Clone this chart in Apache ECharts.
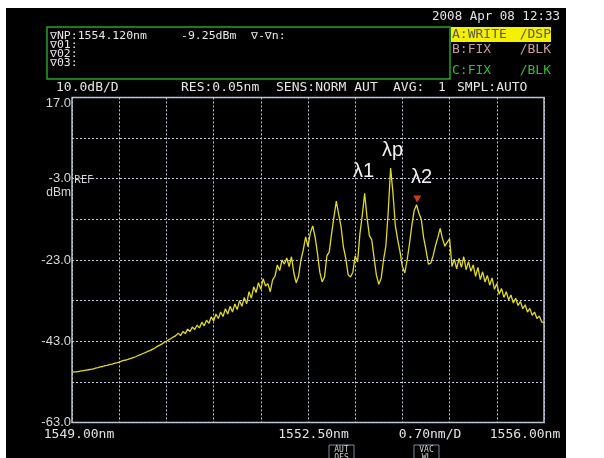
<!DOCTYPE html>
<html><head><meta charset="utf-8">
<script src="https://cdn.jsdelivr.net/npm/echarts@6/dist/echarts.min.js"></script>
<style>html,body{margin:0;padding:0;background:#fff}#c{width:604px;height:458px}</style>
</head><body><div id="c"></div>
<script>
// ---- data ----
const startNm = 1549.0, stepNm = 0.035;           // OSA sampling grid (nm)
const powerSmooth = [
  -50.6,-50.5,-50.5,-50.4,-50.3,-50.2,-50.1,-50.0,-49.9,-49.8,
  -49.6,-49.5,-49.3,-49.2,-49.0,-48.9,-48.7,-48.6,-48.4,-48.3,
  -48.1,-47.9,-47.7,-47.6,-47.4,-47.2,-47.0,-46.8,-46.5,-46.3,
  -46.0,-45.8,-45.5,-45.3,-45.0,-44.7,-44.3,-44.0,-43.7,-43.3,
  -43.0,-42.6,-42.3,-41.9,-41.6];
const powerRipple = [
  -41.0,-41.6,-40.6,-41.1,-40.0,-40.6,-39.5,-40.1,-39.0,-39.7,
  -38.3,-39.2,-37.8,-38.6,-37.0,-38.0,-36.3,-37.4,-35.8,-36.9,
  -35.0,-36.3,-34.4,-35.8,-33.8,-35.2,-33.0,-34.4,-32.2,-33.8,
  -30.8,-32.4,-29.6,-31.0,-28.6,-30.2,-27.6,-29.4,-28.8,-30.8,
  -27.9];
const powerPeaks = [
  -27.0,-24.2,-25.6,-23.0,-24.0,-22.5,-24.6,-22.2,-26.2,-28.6,
  -27.0,-23.0,-20.5,-17.3,-19.7,-16.3,-14.6,-17.3,-21.3,-26.0,
  -28.4,-27.2,-22.0,-21.0,-16.5,-12.4,-8.5,-11.8,-14.8,-19.8,
  -22.6,-26.6,-27.2,-26.0,-22.0,-23.5,-16.5,-12.0,-6.6,-12.5,
  -17.0,-18.0,-22.5,-26.8,-29.0,-27.5,-23.0,-19.5,-11.0,-0.4,
  -6.5,-14.5,-18.0,-21.0,-24.6,-26.2,-23.0,-19.0,-14.5,-10.8,
  -9.4,-11.5,-13.0,-17.5,-20.5,-24.0,-23.8,-22.0,-19.5,-17.5,
  -15.2,-17.8,-19.6,-18.6,-17.8];
const powerTail = [
  -24.6,-22.8,-25.2,-22.6,-24.8,-22.2,-25.4,-23.4,-25.8,-24.2,
  -27.0,-24.8,-27.8,-25.9,-28.4,-26.8,-29.2,-27.4,-30.2,-28.8,
  -31.4,-30.0,-32.2,-30.8,-32.8,-31.6,-33.6,-32.4,-34.2,-33.2,
  -35.0,-34.0,-35.8,-34.9,-36.6,-35.8,-37.4,-36.8,-38.2,-38.4];
const markerPoint = [1554.120, -9.25];
const yLabelValues = [17, -3, -23, -43, -63];
const xLabelValues = [1549.0, 1552.5, 1556.0];
const peakNames = ['λ1', 'λp', 'λ2'];

// ---- build ----
const powers = powerSmooth.concat(powerRipple, powerPeaks, powerTail);
const trace = powers.map((p, i) => [+(startNm + i * stepNm).toFixed(3), p]);

const mono = 'DejaVu Sans Mono';
const txt = (text, x, y, opt = {}) => Object.assign({
  type: 'text', x, y,
  style: Object.assign({ text, fill: '#e4e4e4', font: '13px "' + mono + '"', align: 'left', verticalAlign: 'middle' }, opt.style || {})
}, opt.el || {});
const small = { el: { scaleY: 0.85 }, style: { font: '11.5px "' + mono + '"', fill: '#e8e8e8' } };

const chart = echarts.init(document.getElementById('c'), null, { renderer: 'canvas' });
chart.setOption({
  backgroundColor: '#fff',
  animation: false,
  grid: { left: 72, top: 97.4, right: 60, bottom: 35.4, show: true, borderColor: '#b4c0d4', borderWidth: 1.5, backgroundColor: 'transparent' },
  xAxis: {
    type: 'value', min: 1549, max: 1556, interval: 0.7,
    axisLine: { show: false }, axisTick: { show: false },
    splitLine: { show: true, lineStyle: { color: '#c4ccdc', type: [2, 2], width: 1 } },
    axisLabel: {
      show: true, margin: 6, color: '#e2e2e2', fontFamily: mono, fontSize: 13,
      showMinLabel: true, showMaxLabel: true,
      formatter: v => {
        if (Math.abs(v - xLabelValues[0]) < 1e-6) return '{a|' + v.toFixed(2) + 'nm}';
        if (Math.abs(v - xLabelValues[1]) < 1e-6) return '{b|' + v.toFixed(2) + 'nm}';
        if (Math.abs(v - xLabelValues[2]) < 1e-6) return '{c|' + v.toFixed(2) + 'nm}';
        return '';
      },
      rich: {
        a: { padding: [0, 0, 0, 14], color: '#e2e2e2', fontFamily: mono, fontSize: 13 },
        b: { padding: [0, 0, 0, 11], color: '#e2e2e2', fontFamily: mono, fontSize: 13 },
        c: { padding: [0, 38, 0, 0], color: '#e2e2e2', fontFamily: mono, fontSize: 13 }
      }
    }
  },
  yAxis: {
    type: 'value', min: -63, max: 17, interval: 10,
    axisLine: { show: false }, axisTick: { show: false },
    splitLine: { show: true, lineStyle: { color: '#c4ccdc', type: [2, 2], width: 1 } },
    axisLabel: {
      margin: 1, color: '#d8d8d8', fontFamily: 'Liberation Sans', fontSize: 13,
      showMinLabel: true, showMaxLabel: true,
      verticalAlignMaxLabel: 'top',
      formatter: v => yLabelValues.some(t => Math.abs(t - v) < 1e-6) ? v.toFixed(1) : ''
    }
  },
  series: [
    {
      type: 'line', data: trace, showSymbol: false, symbol: 'none', z: 3,
      lineStyle: { color: '#e2da22', width: 1.3 }
    },
    {
      type: 'scatter', data: [markerPoint], symbol: 'triangle', symbolRotate: 180,
      symbolSize: [8, 7], symbolOffset: [0, -5], z: 4,
      itemStyle: { color: '#ff4a18' }, silent: true
    }
  ],
  graphic: { elements: [
    { type: 'rect', z: -10, shape: { x: 6, y: 8, width: 560, height: 450 }, style: { fill: '#000' } },
    // header
    txt('2008 Apr 08 12:33', 560, 17, { style: { align: 'right', font: '12.5px "' + mono + '"' } }),
    { type: 'rect', shape: { x: 47, y: 27, width: 403, height: 52 }, style: { fill: 'none', stroke: '#26a326', lineWidth: 1.5 } },
    txt('∇NP:1554.120nm', 50, 36, small),
    txt('-9.25dBm', 181, 36, small),
    txt('∇-∇n:', 251, 36, small),
    txt('∇01:', 50, 45, small),
    txt('∇02:', 50, 54, small),
    txt('∇03:', 50, 63, small),
    { type: 'rect', shape: { x: 451, y: 27, width: 100, height: 15 }, style: { fill: '#f4f000' } },
    txt('A:WRITE', 452, 35, { style: { fill: '#5a5a40' } }),
    txt('/DSP', 551, 35, { style: { fill: '#5a5a40', align: 'right' } }),
    txt('B:FIX', 452, 50, { style: { fill: '#c89a9a' } }),
    txt('/BLK', 551, 50, { style: { fill: '#c89a9a', align: 'right' } }),
    txt('C:FIX', 452, 71, { style: { fill: '#30be30' } }),
    txt('/BLK', 551, 71, { style: { fill: '#30be30', align: 'right' } }),
    txt('10.0dB/D', 56, 88),
    txt('RES:0.05nm', 181, 88),
    txt('SENS:NORM AUT', 276, 88),
    txt('AVG:', 393, 88),
    txt('1', 438, 88),
    txt('SMPL:AUTO', 457, 88),
    // axis extras
    txt('REF', 74, 180, { style: { font: '10px "DejaVu Sans"', fill: '#d8d8d8' } }),
    txt('dBm', 71, 193, { style: { font: '12px "Liberation Sans"', fill: '#d8d8d8', align: 'right' } }),
    txt('0.70nm/D', 430, 435, { style: { align: 'center' } }),
    { type: 'rect', shape: { x: 329, y: 445, width: 25, height: 16 }, style: { fill: 'none', stroke: '#7c86a0', lineWidth: 1 } },
    txt('AUT', 341.5, 450, { style: { align: 'center', font: '8px "' + mono + '"', fill: '#d0d0d0' } }),
    txt('OFS', 341.5, 458, { style: { align: 'center', font: '8px "' + mono + '"', fill: '#d0d0d0' } }),
    { type: 'rect', shape: { x: 414, y: 445, width: 25, height: 16 }, style: { fill: 'none', stroke: '#7c86a0', lineWidth: 1 } },
    txt('VAC', 426.5, 450, { style: { align: 'center', font: '8px "' + mono + '"', fill: '#d0d0d0' } }),
    txt('WL', 426.5, 458, { style: { align: 'center', font: '8px "' + mono + '"', fill: '#d0d0d0' } }),
    // peak annotations
    txt(peakNames[0], 353, 171, { style: { font: '20px "Liberation Sans"', fill: '#f2f2f2' } }),
    txt(peakNames[1], 382, 150, { style: { font: '20px "Liberation Sans"', fill: '#f2f2f2' } }),
    txt(peakNames[2], 411, 177, { style: { font: '20px "Liberation Sans"', fill: '#f2f2f2' } })
  ] }
});
</script></body></html>
